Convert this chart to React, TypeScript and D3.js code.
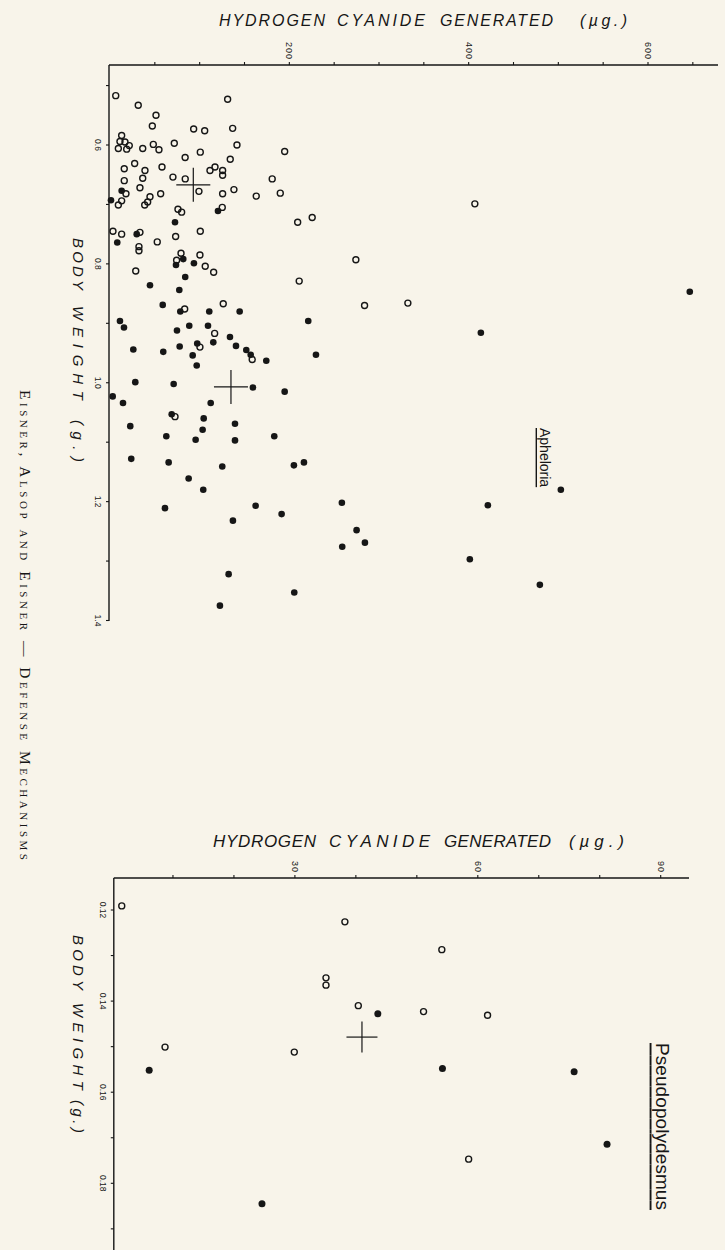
import React from "react";
import * as d3 from "d3";

// ---------------- Apheloria (upper panel) ----------------
// body weight (g) and hydrogen cyanide generated (µg)
const aphOpenWeight = [
  0.517, 0.533, 0.523, 0.55, 0.568, 0.573, 0.576, 0.572, 0.584, 0.594, 0.595, 0.601, 0.606, 0.607,
  0.606, 0.599, 0.608, 0.597, 0.612, 0.6, 0.611, 0.621, 0.624, 0.631, 0.64, 0.643, 0.637, 0.643,
  0.637, 0.643, 0.651, 0.654, 0.657, 0.656, 0.66, 0.657, 0.678, 0.675, 0.672, 0.682, 0.682, 0.682,
  0.686, 0.681, 0.687, 0.696, 0.701, 0.694, 0.701, 0.708, 0.713, 0.705, 0.73, 0.722, 0.745, 0.745,
  0.75, 0.747, 0.754, 0.763, 0.771, 0.778, 0.782, 0.785, 0.794, 0.804, 0.814, 0.812, 0.793, 0.829,
  0.867, 0.87, 0.876, 0.917, 0.94, 0.961, 1.057, 0.699, 0.866,
];
const aphOpenHCN = [
  6.4, 31.5, 131.2, 51.3, 47.2, 93.3, 105.6, 136.8, 13.0, 11.1, 16.7, 21.5, 9.3, 18.6,
  36.5, 48.3, 54.6, 71.7, 100.7, 141.6, 194.8, 83.8, 134.1, 27.5, 15.9, 39.0, 58.0, 111.5,
  117.1, 125.6, 125.6, 70.2, 83.9, 36.5, 15.9, 180.9, 99.2, 138.2, 33.4, 17.8, 56.5, 125.6,
  163.1, 189.9, 44.6, 42.0, 38.7, 13.0, 9.3, 75.8, 79.9, 125.2, 209.3, 225.5, 100.7, 3.3,
  13.0, 33.4, 73.2, 52.7, 32.3, 32.3, 79.2, 100.3, 74.3, 106.2, 115.6, 28.7, 274.2, 211.0,
  126.3, 283.9, 83.3, 116.7, 100.3, 158.6, 72.5, 406.9, 332.2,
];
const aphFilledWeight = [
  0.677, 0.693, 0.711, 0.73, 0.75, 0.764, 0.792, 0.799, 0.802, 0.822, 0.836, 0.844, 0.869, 0.88,
  0.88, 0.88, 0.896, 0.896, 0.907, 0.904, 0.904, 0.912, 0.932, 0.923, 0.938, 0.934, 0.939, 0.945,
  0.953, 0.963, 0.953, 0.944, 0.948, 0.954, 0.971, 0.999, 1.002, 1.008, 1.015, 1.023, 1.034, 1.034,
  1.053, 1.06, 1.069, 1.073, 1.079, 1.09, 1.09, 1.096, 1.097, 1.128, 1.134, 1.141, 1.139, 1.134,
  1.161, 1.18, 1.211, 1.207, 1.221, 1.232, 1.202, 1.248, 1.276, 1.269, 1.322, 1.353, 1.375, 0.916,
  0.847, 1.18, 1.206, 1.297, 1.34,
];
const aphFilledHCN = [
  13.0, 1.1, 120.4, 72.5, 29.8, 8.1, 81.7, 93.6, 73.6, 83.9, 44.6, 77.3, 58.8, 78.4,
  110.7, 144.6, 221.1, 11.1, 15.6, 88.4, 109.3, 74.7, 115.2, 133.8, 140.5, 97.3, 77.7, 152.0,
  156.9, 174.3, 229.7, 26.0, 59.4, 92.2, 96.7, 28.2, 71.0, 159.4, 194.8, 3.0, 14.5, 112.3,
  68.8, 104.5, 139.4, 22.6, 103.3, 183.2, 62.8, 95.5, 139.4, 23.7, 65.4, 125.2, 205.1, 216.3,
  87.7, 104.0, 61.3, 162.4, 191.4, 137.1, 258.6, 275.0, 259.0, 284.3, 132.3, 205.5, 122.6, 413.6,
  646.6, 502.8, 421.4, 401.3, 479.4,
];
const aphMeanWeight = [0.667, 1.007];
const aphMeanHCN = [92.9, 134.9];
const aphHcnTicks = [50, 100, 150, 200, 250, 300, 350, 400, 450, 500, 550, 600, 650];
const aphHcnLabels = ["200", "400", "600"];
const aphWeightTicks = [0.5, 0.6, 0.7, 0.8, 0.9, 1.0, 1.1, 1.2, 1.3, 1.4];
const aphWeightLabels = ["0.6", "0.8", "1.0", "1.2", "1.4"];

// ---------------- Pseudopolydesmus (lower panel) ----------------
const psOpenWeight = [0.1191, 0.1226, 0.1287, 0.1349, 0.1365, 0.141, 0.1423, 0.1431, 0.1501, 0.1512, 0.1747];
const psOpenHCN = [1.6, 38.2, 54.1, 35.1, 35.1, 40.4, 51.1, 61.6, 8.7, 29.9, 58.5];
const psFilledWeight = [0.1428, 0.1552, 0.1548, 0.1555, 0.1714, 0.1845];
const psFilledHCN = [43.6, 6.1, 54.2, 75.8, 81.2, 24.6];
const psMeanWeight = [0.1479];
const psMeanHCN = [41.0];
const psHcnTicks = [10, 20, 30, 40, 50, 60, 70, 80, 90];
const psHcnLabels = ["30", "60", "90"];
const psWeightTicks = [0.12, 0.13, 0.14, 0.15, 0.16, 0.17, 0.18, 0.19];
const psWeightLabels = ["0.12", "0.14", "0.16", "0.18"];

const BG = "#f8f4ea";
const INK = "#161616";
const SANS = "'Liberation Sans', Arial, Helvetica, sans-serif";
const SERIF = "'Liberation Serif', 'Times New Roman', serif";

function TitleWords({ words, starts, ends, y, size }: { words: string[]; starts: number[]; ends: number[]; y: number; size: number }) {
  return (
    <g>
      {words.map((w, i) => (
        <text
          key={i}
          x={starts[i]}
          y={y}
          fontFamily={SANS}
          fontStyle="italic"
          fontSize={size}
          fill={INK}
          textLength={ends[i] - starts[i]}
          lengthAdjust="spacing"
        >
          {w}
        </text>
      ))}
    </g>
  );
}

function VerticalWords({ words, starts, ends, x, size }: { words: string[]; starts: number[]; ends: number[]; x: number; size: number }) {
  return (
    <g>
      {words.map((w, i) => (
        <text
          key={i}
          transform={`translate(${x},${starts[i]}) rotate(90)`}
          dominantBaseline="central"
          fontFamily={SANS}
          fontStyle="italic"
          fontSize={size}
          fill={INK}
          textLength={ends[i] - starts[i]}
          lengthAdjust="spacing"
        >
          {w}
        </text>
      ))}
    </g>
  );
}

function Panel(props: {
  x: d3.ScaleLinear<number, number>;
  y: d3.ScaleLinear<number, number>;
  axisX: number;
  axisY: number;
  axisRight: number;
  axisBottom: number;
  hcnTicks: number[];
  hcnLabels: string[];
  wTicks: number[];
  wLabels: string[];
  openW: number[];
  openH: number[];
  fillW: number[];
  fillH: number[];
  meanW: number[];
  meanH: number[];
  rOpen: number;
  rFill: number;
  cross: number;
}) {
  const p = props;
  return (
    <g>
      {/* axes */}
      <line x1={p.axisX} x2={p.axisRight} y1={p.axisY} y2={p.axisY} stroke={INK} strokeWidth={1.4} />
      <line x1={p.axisX} x2={p.axisX} y1={p.axisY} y2={p.axisBottom} stroke={INK} strokeWidth={1.4} />
      {p.hcnTicks.map((t) => (
        <line key={"ht" + t} x1={p.x(t)} x2={p.x(t)} y1={p.axisY} y2={p.axisY - 3} stroke={INK} strokeWidth={1.1} />
      ))}
      {p.wTicks.map((t) => (
        <line key={"wt" + t} x1={p.axisX} x2={p.axisX - 3} y1={p.y(t)} y2={p.y(t)} stroke={INK} strokeWidth={1.1} />
      ))}
      {p.hcnLabels.map((l) => (
        <text
          key={"hl" + l}
          transform={`translate(${p.x(+l)},${p.axisY - 5}) rotate(90)`}
          textAnchor="end"
          dominantBaseline="central"
          fontFamily={SANS}
          fontSize={9}
          letterSpacing={1}
          fill={INK}
        >
          {l}
        </text>
      ))}
      {p.wLabels.map((l) => (
        <text
          key={"wl" + l}
          transform={`translate(${p.axisX - 11},${p.y(+l)}) rotate(90)`}
          textAnchor="middle"
          dominantBaseline="central"
          fontFamily={SANS}
          fontSize={8.5}
          fill={INK}
        >
          {l}
        </text>
      ))}
      {/* open circles */}
      {p.openW.map((w, i) => (
        <circle key={"o" + i} cx={p.x(p.openH[i])} cy={p.y(w)} r={p.rOpen} fill="none" stroke={INK} strokeWidth={1.4} />
      ))}
      {/* filled circles */}
      {p.fillW.map((w, i) => (
        <circle key={"f" + i} cx={p.x(p.fillH[i])} cy={p.y(w)} r={p.rFill} fill={INK} />
      ))}
      {/* means */}
      {p.meanW.map((w, i) => {
        const cx = p.x(p.meanH[i]);
        const cy = p.y(w);
        return (
          <g key={"m" + i} stroke={INK} strokeWidth={1.2}>
            <line x1={cx - p.cross} x2={cx + p.cross} y1={cy} y2={cy} />
            <line x1={cx} x2={cx} y1={cy - p.cross} y2={cy + p.cross} />
          </g>
        );
      })}
    </g>
  );
}

export default function App() {
  const W = 725;
  const H = 1250;

  // upper panel scales
  const xA = d3.scaleLinear().domain([0, 600]).range([110, 648]);
  const yA = d3.scaleLinear().domain([0.6, 1.4]).range([145, 620.5]);
  // lower panel scales
  const xP = d3.scaleLinear().domain([30, 90]).range([294.9, 660.7]);
  const yP = d3.scaleLinear().domain([0.12, 0.18]).range([910, 1183.3]);

  return (
    <svg
      width={W}
      height={H}
      viewBox={`0 0 ${W} ${H}`}
      style={{ position: "absolute", left: 0, top: 0, display: "block" }}
    >
      <rect x={0} y={0} width={W} height={H} fill={BG} />

      {/* running head */}
      <text
        transform={`translate(25,390) rotate(90)`}
        dominantBaseline="central"
        fontFamily={SERIF}
        fontSize={15.5}
        fontVariant="small-caps"
        fill={INK}
        textLength={470}
        lengthAdjust="spacing"
      >
        Eisner, Alsop and Eisner — Defense Mechanisms
      </text>

      {/* ---------- upper panel ---------- */}
      <TitleWords
        words={["HYDROGEN", "CYANIDE", "GENERATED", "(µg.)"]}
        starts={[219, 337, 440, 580]}
        ends={[325, 425, 553, 627]}
        y={26}
        size={16}
      />
      <VerticalWords
        words={["BODY", "WEIGHT", "(g.)"]}
        starts={[238, 306, 420]}
        ends={[290, 400, 462]}
        x={78}
        size={15}
      />
      <Panel
        x={xA}
        y={yA}
        axisX={109}
        axisY={65}
        axisRight={718}
        axisBottom={621}
        hcnTicks={aphHcnTicks}
        hcnLabels={aphHcnLabels}
        wTicks={aphWeightTicks}
        wLabels={aphWeightLabels}
        openW={aphOpenWeight}
        openH={aphOpenHCN}
        fillW={aphFilledWeight}
        fillH={aphFilledHCN}
        meanW={aphMeanWeight}
        meanH={aphMeanHCN}
        rOpen={3}
        rFill={3.3}
        cross={17}
      />
      <text
        transform={`translate(545,428) rotate(90)`}
        dominantBaseline="central"
        fontFamily={SANS}
        fontSize={14}
        fill={INK}
        textDecoration="underline"
      >
        Apheloria
      </text>

      {/* ---------- lower panel ---------- */}
      <TitleWords
        words={["HYDROGEN", "CYANIDE", "GENERATED", "(µg.)"]}
        starts={[213, 329, 444, 569]}
        ends={[316, 430, 551, 624]}
        y={847}
        size={17}
      />
      <VerticalWords
        words={["BODY", "WEIGHT", "(g.)"]}
        starts={[935, 1003, 1100]}
        ends={[990, 1090, 1133]}
        x={78}
        size={15}
      />
      <Panel
        x={xP}
        y={yP}
        axisX={113.8}
        axisY={878}
        axisRight={689}
        axisBottom={1250}
        hcnTicks={psHcnTicks}
        hcnLabels={psHcnLabels}
        wTicks={psWeightTicks}
        wLabels={psWeightLabels}
        openW={psOpenWeight}
        openH={psOpenHCN}
        fillW={psFilledWeight}
        fillH={psFilledHCN}
        meanW={psMeanWeight}
        meanH={psMeanHCN}
        rOpen={3}
        rFill={3.5}
        cross={15.5}
      />
      <text
        transform={`translate(662,1043) rotate(90)`}
        dominantBaseline="central"
        fontFamily={SANS}
        fontSize={19}
        fill={INK}
        textDecoration="underline"
        textLength={167}
        lengthAdjust="spacing"
      >
        Pseudopolydesmus
      </text>
    </svg>
  );
}
